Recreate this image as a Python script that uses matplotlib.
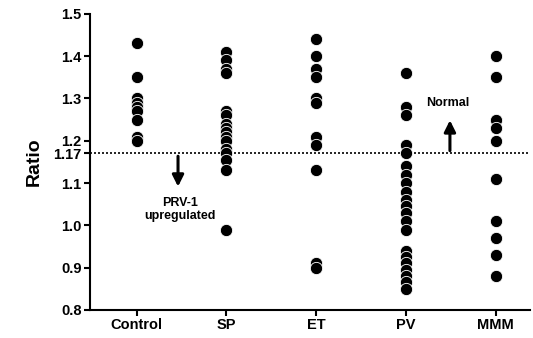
import numpy as np
import matplotlib.pyplot as plt

plt.rcParams['font.family'] = ['Liberation Sans', 'DejaVu Sans']
plt.rcParams['font.weight'] = 'bold'

groups = ['Control', 'SP', 'ET', 'PV', 'MMM']
control = [1.43, 1.35, 1.30, 1.29, 1.28, 1.27, 1.25, 1.21, 1.20]
sp = [1.41, 1.39, 1.37, 1.36, 1.27, 1.26, 1.24, 1.23, 1.22, 1.21, 1.20,
      1.18, 1.17, 1.155, 1.13, 0.99]
et = [1.44, 1.40, 1.37, 1.35, 1.30, 1.29, 1.21, 1.19, 1.13, 0.91, 0.90]
pv = [1.36, 1.28, 1.26, 1.19, 1.17, 1.14, 1.12, 1.10, 1.08, 1.06, 1.045,
      1.03, 1.01, 0.99, 0.94, 0.925, 0.91, 0.895, 0.88, 0.865, 0.85]
mmm = [1.40, 1.35, 1.25, 1.23, 1.20, 1.11, 1.01, 0.97, 0.93, 0.88]
cutoff = 1.17

fig = plt.figure(figsize=(5.33, 3.38), dpi=100)
ax = fig.add_axes([0.169, 0.083, 0.825, 0.876])

for i, vals in enumerate([control, sp, et, pv, mmm]):
    ax.scatter(np.full(len(vals), i), vals, s=78, color='black',
               edgecolor='white', linewidth=0.6, zorder=3)

ax.axhline(cutoff, color='black', linestyle=(0, (1.2, 1.2)), linewidth=1.2, zorder=2)

# arrows and labels
ax.annotate('', xy=(0.46, 1.085), xytext=(0.46, cutoff),
            arrowprops=dict(arrowstyle='-|>', color='black', lw=2.2, mutation_scale=17))
ax.text(0.48, 1.038, 'PRV-1\nupregulated', ha='center', va='center',
        fontsize=9, fontweight='bold', linespacing=1.1)
ax.annotate('', xy=(3.49, 1.255), xytext=(3.49, cutoff),
            arrowprops=dict(arrowstyle='-|>', color='black', lw=2.2, mutation_scale=17))
ax.text(3.47, 1.29, 'Normal', ha='center', va='center',
        fontsize=9, fontweight='bold')

ax.set_xlim(-0.52, 4.38)
ax.set_ylim(0.8, 1.5)
ax.set_xticks(range(len(groups)))
ax.set_xticklabels(groups, fontsize=10.5, fontweight='bold')
yt = [0.8, 0.9, 1.0, 1.1, cutoff, 1.2, 1.3, 1.4, 1.5]
ax.set_yticks(yt)
ax.set_yticklabels(['0.8', '0.9', '1.0', '1.1', '1.17', '1.2', '1.3', '1.4', '1.5'],
                   fontsize=10.5, fontweight='bold')
ax.set_ylabel('Ratio', fontsize=14, fontweight='bold', labelpad=8)

ax.spines['top'].set_visible(False)
ax.spines['right'].set_visible(False)
ax.spines['left'].set_linewidth(1.5)
ax.spines['bottom'].set_linewidth(1.5)
ax.tick_params(axis='both', direction='out', width=1.5, length=4, pad=2)

fig.savefig('out.png', dpi=100)
